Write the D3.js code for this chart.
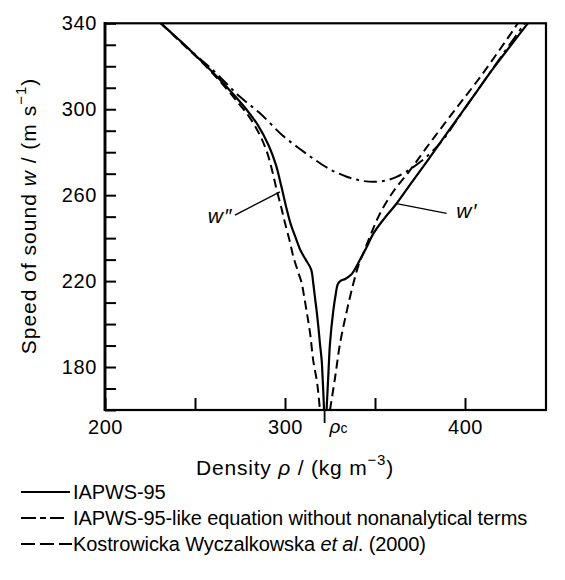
<!DOCTYPE html>
<html><head><meta charset="utf-8">
<script src="https://cdn.jsdelivr.net/npm/d3@7"></script>
<style>
body{margin:0;background:#fff}
text{font-family:"Liberation Sans",Arial,Helvetica,sans-serif;fill:#000}
</style>
</head><body>
<svg id="chart" width="565" height="580"></svg>
<script>
// ---- data (density kg/m3, speed of sound m/s) ----
const xTicks = [200, 250, 300, 350, 400];
const xTickLabels = [200, 300, 400];
const yTicks = [160,170,180,190,200,210,220,230,240,250,260,270,280,290,300,310,320,330,340];
const yTickLabels = [180, 220, 260, 300, 340];
const rhoC = 322;

const iapwsVapor = [[231,340],[243.5,330.5],[256.5,320],[267.5,310.5],[277,301.5],[285,292.5],[291,283],[295,274],[298,264],[300.5,255],[303,247],[306,240],[308.5,234.5],[311.5,230],[314.5,225.5],[315.7,219],[316.7,212],[317.6,206],[318.5,199],[319.4,191],[320.4,183],[320.9,175],[321.3,168],[321.7,160]];
const iapwsLiquid = [[323.1,160],[324,175],[325,191],[326.8,206],[328.2,214],[329.3,218.5],[331,220.2],[333.5,221],[336.5,222.8],[339.5,226.5],[342,230.5],[345.5,236],[349,242],[355,249],[362,256.1],[370,265.5],[378.7,275.5],[388,286.5],[397.2,297.3],[406.5,308.2],[415.7,319],[425,329.2],[434.5,339.5],[436,341]];
const kwVapor = [[231,340],[243,330.5],[255.5,320.5],[265.5,311.5],[274,303],[280.5,296],[286,288],[290,280],[293,271],[295.5,262],[298,254],[300,247],[302.5,239],[304.6,231.5],[307,225],[309.3,219],[310.4,214],[312,206],[313.9,196],[315.7,183],[317.6,174],[318.5,168],[319.4,160]];
const kwLiquid = [[325,160],[327.8,175],[330.6,191],[334.3,206],[338,219],[340.7,227],[344,234],[348,242.5],[352.8,251.5],[360,261.5],[369.4,271.5],[378.5,282],[388,292.6],[397,302.5],[406.5,312.8],[417,325],[428.7,339.2],[430,341]];
const noNonanalytic = [[231,340],[243.5,330.5],[252,324],[260.2,318],[268,311.5],[275,305.8],[286.1,298.1],[299,287.5],[308.3,281.5],[315.7,277],[325,272],[334.3,268.6],[342,266.8],[349,266.2],[356,266.8],[362,268.5],[369,271.8],[376,276],[382,280.5],[388,286],[394,293.2],[400,300.5],[408,310],[416,319.6],[425,330.3],[433.5,340.3]];

const seriesNames = ["IAPWS-95", "IAPWS-95-like equation without nonanalytical terms", "Kostrowicka Wyczalkowska"];

// annotation anchors in data space
const wVapAnn = {from:[272.2,250.7], to:[297.2,261.5], text:[270.8,247.2]};
const wLiqAnn = {from:[362,256.1], to:[389.8,251.5], text:[395.2,249.3]};

// ---- layout ----
const svg = d3.select("#chart");
const x = d3.scaleLinear().domain([200, 445]).range([105, 546]);
const y = d3.scaleLinear().domain([160, 340]).range([410, 23.3]);

svg.append("defs").append("clipPath").attr("id","clip")
  .append("rect").attr("x",105).attr("y",23.3).attr("width",441).attr("height",386.7);

const line = d3.line().x(d=>x(d[0])).y(d=>y(d[1])).curve(d3.curveCatmullRom.alpha(0.5));

const g = svg.append("g").attr("clip-path","url(#clip)");
const styles = {
  solid: {dash:null, w:2.2},
  dashdot: {dash:"13,5,3,5", w:2},
  dashed: {dash:"9,5", w:2}
};
function drawCurve(data, st){
  g.append("path").datum(data).attr("d", line)
    .attr("fill","none").attr("stroke","#000")
    .attr("stroke-width", st.w)
    .attr("stroke-dasharray", st.dash);
}
drawCurve(noNonanalytic, styles.dashdot);
drawCurve(kwVapor, styles.dashed);
drawCurve(kwLiquid, styles.dashed);
drawCurve(iapwsVapor, styles.solid);
drawCurve(iapwsLiquid, styles.solid);

// annotations
[wVapAnn, wLiqAnn].forEach(a=>{
  svg.append("line").attr("x1",x(a.from[0])).attr("y1",y(a.from[1]))
    .attr("x2",x(a.to[0])).attr("y2",y(a.to[1]))
    .attr("stroke","#000").attr("stroke-width",1.3);
});
svg.append("text").attr("x",x(wVapAnn.text[0])).attr("y",y(wVapAnn.text[1]))
  .attr("text-anchor","end").attr("font-size",21).attr("font-style","italic")
  .attr("letter-spacing",1).text("w\u2033");
svg.append("text").attr("x",x(wLiqAnn.text[0])).attr("y",y(wLiqAnn.text[1]))
  .attr("font-size",21).attr("font-style","italic").attr("letter-spacing",1).text("w\u2032");

// axes
const yAxis = d3.axisLeft(y).tickValues(yTicks).tickSize(-11).tickPadding(8)
  .tickFormat(d=> yTickLabels.includes(d) ? d : "");
const ya = svg.append("g").attr("transform","translate(105,0)").call(yAxis);
const xAxis = d3.axisBottom(x).tickValues(xTicks).tickSize(-12).tickPadding(10)
  .tickFormat(d=> xTickLabels.includes(d) ? d : "");
const xa = svg.append("g").attr("transform","translate(0,410)").call(xAxis);
[ya, xa].forEach(a=>{
  a.select(".domain").remove();
  a.selectAll(".tick line").attr("stroke","#000").attr("stroke-width",2);
  a.selectAll(".tick text").attr("font-size",20).attr("fill","#000")
    .attr("letter-spacing",0.6)
    .style("font-family",'"Liberation Sans",Arial,sans-serif');
});
// frame
svg.append("rect").attr("x",105).attr("y",23.3).attr("width",441).attr("height",386.7)
  .attr("fill","none").attr("stroke","#000").attr("stroke-width",2.2);
svg.append("line").attr("x1",105).attr("x2",105).attr("y1",22).attr("y2",411)
  .attr("stroke","#000").attr("stroke-width",2.8);

// rho_c marker
svg.append("line").attr("x1",x(rhoC)).attr("x2",x(rhoC)).attr("y1",410).attr("y2",423)
  .attr("stroke","#000").attr("stroke-width",1.8);
const rc = svg.append("text").attr("x",x(rhoC)+5).attr("y",433).attr("font-size",19);
rc.append("tspan").attr("font-style","italic").text("\u03C1");
rc.append("tspan").attr("font-size",14).text("c");

// axis titles
const xt = svg.append("text").attr("x",295).attr("y",475).attr("text-anchor","middle")
  .attr("font-size",21).attr("letter-spacing",0.8);
xt.append("tspan").text("Density ");
xt.append("tspan").attr("font-style","italic").text("\u03C1");
xt.append("tspan").text(" / (kg m");
xt.append("tspan").attr("font-size",15).attr("dy",-10).text("\u22123");
xt.append("tspan").attr("dy",10).text(")");

const yt = svg.append("text").attr("transform","translate(36,216) rotate(-90)")
  .attr("text-anchor","middle").attr("font-size",21).attr("letter-spacing",1);
yt.append("tspan").text("Speed of sound ");
yt.append("tspan").attr("font-style","italic").text("w");
yt.append("tspan").text(" / (m s");
yt.append("tspan").attr("font-size",15).attr("dy",-10).text("\u22121");
yt.append("tspan").attr("dy",10).text(")");

// legend
const legendRows = [
  {name: seriesNames[0], dash:null, x2:70},
  {name: seriesNames[1], dash:"15,4,6,4", x2:64},
  {name: seriesNames[2], dash:"14,5", x2:72}
];
const legY = [492, 518, 544];
legendRows.forEach((r,i)=>{
  svg.append("line").attr("x1",21).attr("x2",r.x2).attr("y1",legY[i]).attr("y2",legY[i])
    .attr("stroke","#000").attr("stroke-width",2).attr("stroke-dasharray",r.dash);
  const t = svg.append("text").attr("x",73).attr("y",legY[i]+7).attr("font-size",20)
    .attr("letter-spacing",-0.1);
  t.append("tspan").text(r.name);
  if(i===2){
    t.append("tspan").text(" ");
    t.append("tspan").attr("font-style","italic").text("et al");
    t.append("tspan").text(". (2000)");
  }
});
</script>
</body></html>
